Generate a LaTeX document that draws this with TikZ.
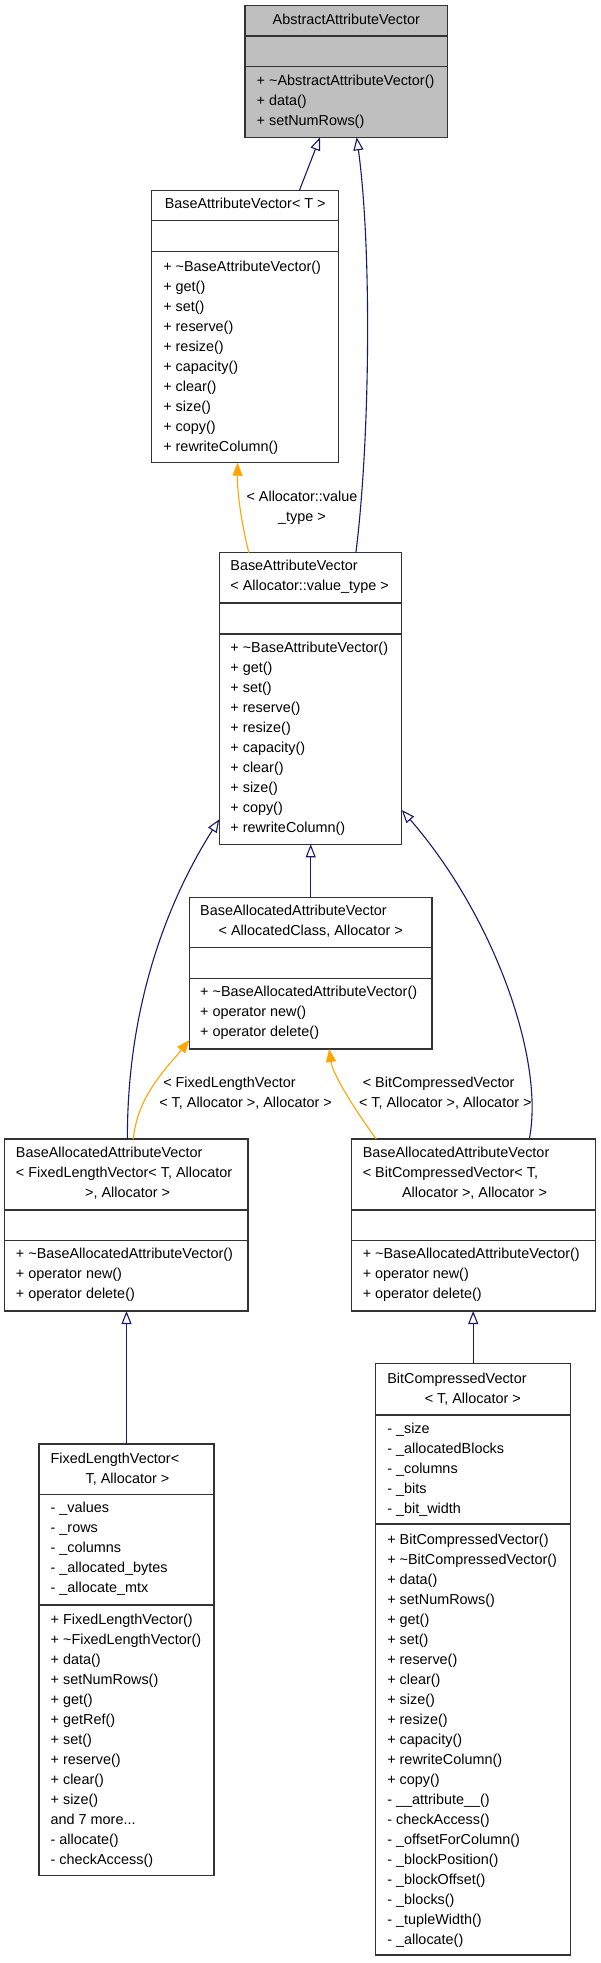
\documentclass[tikz,border=0pt]{standalone}
\usepackage{fontspec}
\setmainfont{Liberation Sans}
\usetikzlibrary{arrows.meta,calc}
\definecolor{edgeblue}{HTML}{191970}
\definecolor{edgeorange}{HTML}{FFA500}
\definecolor{absgray}{HTML}{BFBFBF}
\definecolor{boxline}{HTML}{333333}
\newcommand\sepline[2]{\draw[sepl] (#1.west |- 0,#2) -- (#1.east |- 0,#2);}
\newcommand\tl{\textasciitilde}
\begin{document}
\begin{tikzpicture}[x=1pt,y=-1pt,
  cls/.style={draw=boxline, line width=1.2pt, inner sep=0pt, outer sep=0pt, anchor=north west, fill=white},
  sepl/.style={draw=boxline, line width=1.2pt},
  txt/.style={anchor=north west, inner sep=0pt, outer sep=0pt, align=left, font=\fontsize{14.4}{20}\selectfont},
  ctxt/.style={anchor=north, inner sep=0pt, outer sep=0pt, align=center, font=\fontsize{14.4}{20}\selectfont},
  inh/.style={draw=edgeblue, line width=1.1pt, -{Triangle[open, length=13pt, width=10pt, fill=white]}},
  tmpl/.style={draw=edgeorange, line width=1.1pt, -{Triangle[length=13pt, width=10pt, fill=edgeorange]}},
]
\fill[white] (0,0) rectangle (600,1963);
\useasboundingbox (0,0) rectangle (600,1963);

% ---------- AbstractAttributeVector ----------
\node[cls, fill=absgray, minimum width=202.7pt, minimum height=131.6pt] (abs) at (245,5.7) {};
\sepline{abs}{36}
\sepline{abs}{66.7}
\node[ctxt] (abs-t) at (346.35,10.5) {\strut AbstractAttributeVector};
\node[txt] (abs-m) at (256.7,71.5) {\strut + \tl AbstractAttributeVector()\\\strut + data()\\\strut + setNumRows()};

% ---------- BaseAttributeVector< T > ----------
\node[cls, minimum width=187pt, minimum height=272pt] (bavT) at (151.7,190.7) {};
\sepline{bavT}{220.7}
\sepline{bavT}{251.7}
\node[ctxt] (bavT-t) at (245.2,194.5) {\strut BaseAttributeVector< T >};
\node[txt] (bavT-m) at (163.3,257.2) {\strut + \tl BaseAttributeVector()\\\strut + get()\\\strut + set()\\\strut + reserve()\\\strut + resize()\\\strut + capacity()\\\strut + clear()\\\strut + size()\\\strut + copy()\\\strut + rewriteColumn()};

% ---------- BaseAttributeVector< Allocator::value_type > ----------
\node[cls, minimum width=182.5pt, minimum height=291.6pt] (bavA) at (219.3,552.7) {};
\sepline{bavA}{603}
\sepline{bavA}{634}
\node[txt] (bavA-t) at (230.4,556.5) {\strut BaseAttributeVector\\\strut < Allocator::value\_type >};
\node[txt] (bavA-m) at (230.4,638.8) {\strut + \tl BaseAttributeVector()\\\strut + get()\\\strut + set()\\\strut + reserve()\\\strut + resize()\\\strut + capacity()\\\strut + clear()\\\strut + size()\\\strut + copy()\\\strut + rewriteColumn()};

% ---------- BaseAllocatedAttributeVector< AllocatedClass, Allocator > ----------
\node[cls, minimum width=242.6pt, minimum height=151.7pt] (baac) at (189.4,897.3) {};
\sepline{baac}{947.7}
\sepline{baac}{978.3}
\node[txt] (baac-t1) at (200.2,901.2) {\strut BaseAllocatedAttributeVector};
\node[ctxt] (baac-t2) at (310.7,921.2) {\strut < AllocatedClass, Allocator >};
\node[txt] (baac-m) at (200.2,982.8) {\strut + \tl BaseAllocatedAttributeVector()\\\strut + operator new()\\\strut + operator delete()};

% ---------- BaseAllocatedAttributeVector< FixedLengthVector ... > ----------
\node[cls, minimum width=243.4pt, minimum height=172pt] (baaF) at (4.6,1139) {};
\sepline{baaF}{1210}
\sepline{baaF}{1240.7}
\node[txt] (baaF-t1) at (16,1143.2) {\strut BaseAllocatedAttributeVector\\\strut < FixedLengthVector< T, Allocator};
\node[ctxt] (baaF-t2) at (127.6,1183.2) {\strut >, Allocator >};
\node[txt] (baaF-m) at (16,1244.5) {\strut + \tl BaseAllocatedAttributeVector()\\\strut + operator new()\\\strut + operator delete()};

% ---------- BaseAllocatedAttributeVector< BitCompressedVector ... > ----------
\node[cls, minimum width=243.4pt, minimum height=172pt] (baaB) at (351.7,1139) {};
\sepline{baaB}{1210}
\sepline{baaB}{1240.7}
\node[txt] (baaB-t1) at (362.8,1143.2) {\strut BaseAllocatedAttributeVector\\\strut < BitCompressedVector< T,};
\node[ctxt] (baaB-t2) at (474.5,1183.2) {\strut Allocator >, Allocator >};
\node[txt] (baaB-m) at (362.8,1244.5) {\strut + \tl BaseAllocatedAttributeVector()\\\strut + operator new()\\\strut + operator delete()};

% ---------- FixedLengthVector< T, Allocator > ----------
\node[cls, minimum width=175pt, minimum height=431.7pt] (flv) at (39,1444) {};
\sepline{flv}{1494.3}
\sepline{flv}{1605}
\node[txt] (flv-t1) at (50.7,1449.5) {\strut FixedLengthVector<};
\node[ctxt] (flv-t2) at (127.5,1469.5) {\strut T, Allocator >};
\node[txt] (flv-a) at (50.7,1498.8) {\strut - \_values\\\strut - \_rows\\\strut - \_columns\\\strut - \_allocated\_bytes\\\strut - \_allocate\_mtx};
\node[txt] (flv-m) at (50.7,1610.5) {\strut + FixedLengthVector()\\\strut + \tl FixedLengthVector()\\\strut + data()\\\strut + setNumRows()\\\strut + get()\\\strut + getRef()\\\strut + set()\\\strut + reserve()\\\strut + clear()\\\strut + size()\\\strut and 7 more...\\\strut - allocate()\\\strut - checkAccess()};

% ---------- BitCompressedVector< T, Allocator > ----------
\node[cls, minimum width=195pt, minimum height=591.7pt] (bcv) at (375.7,1363.3) {};
\sepline{bcv}{1415}
\sepline{bcv}{1524}
\node[txt] (bcv-t1) at (387.3,1369.5) {\strut BitCompressedVector};
\node[ctxt] (bcv-t2) at (472.8,1389.5) {\strut < T, Allocator >};
\node[txt] (bcv-a) at (387.3,1419.5) {\strut - \_size\\\strut - \_allocatedBlocks\\\strut - \_columns\\\strut - \_bits\\\strut - \_bit\_width};
\node[txt] (bcv-m) at (387.3,1530.5) {\strut + BitCompressedVector()\\\strut + \tl BitCompressedVector()\\\strut + data()\\\strut + setNumRows()\\\strut + get()\\\strut + set()\\\strut + reserve()\\\strut + clear()\\\strut + size()\\\strut + resize()\\\strut + capacity()\\\strut + rewriteColumn()\\\strut + copy()\\\strut - \_\_attribute\_\_()\\\strut - checkAccess()\\\strut - \_offsetForColumn()\\\strut - \_blockPosition()\\\strut - \_blockOffset()\\\strut - \_blocks()\\\strut - \_tupleWidth()\\\strut - \_allocate()};

% ---------- connectors ----------
\draw[inh] ($(bavT.north west)+(147.6,0)$) -- ($(abs.south west)+(75,0)$);
\draw[inh] ($(bavA.north west)+(136.6,0)$) .. controls (370,440) and (372,250) .. ($(abs.south west)+(111.7,0)$);
\draw[tmpl] ($(bavA.north west)+(29.5,0)$) .. controls (243,530) and (237,495) .. ($(bavT.south west)+(86,0)$);
\node[ctxt] (lbl-vt) at (302,487.2) {\strut < Allocator::value\\\strut \_type >};

\draw[inh] (baac.north) -- (baac.north |- bavA.south);
\draw[inh] ($(baaF.north west)+(122.8,0)$) .. controls (127,1010) and (165,905) .. ($(bavA.north west)+(0,266.6)$);
\draw[inh] ($(baaB.north west)+(177.6,0)$) .. controls (545,1060) and (494,916) .. ($(bavA.north east)+(0,257.3)$);

\draw[tmpl] ($(baaF.north west)+(128.6,0)$) .. controls (138,1095) and (166,1069) .. ($(baac.south west)+(0,-9)$);
\node[txt] (lbl-flv) at (159.3,1073.8) {\strut\hspace*{4pt}< FixedLengthVector\\\strut < T, Allocator >, Allocator >};
\draw[tmpl] ($(baaB.north west)+(24.5,0)$) .. controls (355,1110) and (333,1075) .. ($(baac.south west)+(139.7,0)$);
\node[txt] (lbl-bcv) at (359,1073.5) {\strut\hspace*{3.8pt}< BitCompressedVector\\\strut < T, Allocator >, Allocator >};

\draw[inh] (flv.north) -- (flv.north |- baaF.south);
\draw[inh] (bcv.north) -- (bcv.north |- baaB.south);
\end{tikzpicture}
\end{document}
